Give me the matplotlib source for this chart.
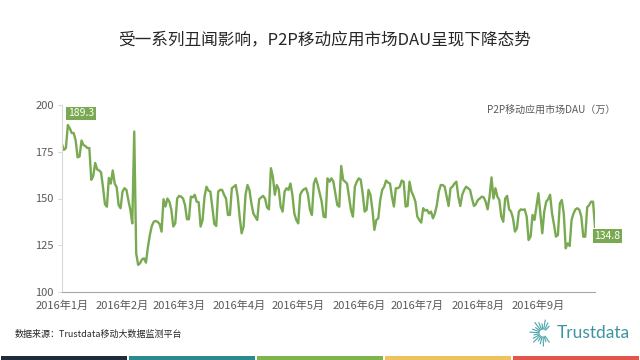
import numpy as np
import pandas as pd
import matplotlib
matplotlib.use('Agg')
import matplotlib.pyplot as plt
from matplotlib.patches import Rectangle
from matplotlib.lines import Line2D

plt.rcParams['font.family'] = ['Noto Sans CJK SC', 'DejaVu Sans']

# P2P移动应用市场DAU（万），2016-01-01 ~ 2016-09-30 每日数据
jan = [179, 176, 177, 189.3, 187.5, 185, 185, 181, 172, 172.5,
       181, 178.6, 178, 177, 177, 160, 162, 169, 165.6, 165,
       164, 156, 147, 145.6, 161, 158, 165, 158, 156, 146.5, 144.8]
feb = [153.7, 155.5, 154.6, 149, 144, 136.7, 185.8, 120.7, 114.5, 115.4,
       117.5, 118, 115.7, 124, 130.5, 135.3, 137.6, 138, 137.5, 136.4,
       132.3, 149.6, 145.7, 150, 148.3, 144, 135, 136.7, 150]
mar = [151.4, 151, 150, 146.5, 138.9, 138.9, 151, 150.6, 152, 148.3,
       148, 135, 138.5, 151, 156.3, 154.2, 153.7, 145.3, 136.4, 135.3,
       153.7, 154.6, 154.6, 152, 150, 141.2, 141.2, 155.5, 156.3, 157.2, 151]
apr = [140, 131.4, 135, 152, 157.2, 154.6, 147.4, 142, 140.3, 138.5,
       149.6, 150.6, 151.4, 150, 145.3, 144.2, 166.2, 161.7, 152, 157.2,
       155, 145.7, 143, 153.7, 155.5, 154.6, 158, 152, 142, 138.5]
may = [136.7, 152, 154, 155, 155.5, 152, 144, 141.2, 158, 160.8,
       157.2, 152.8, 148.3, 140.3, 140, 160.8, 159, 160.8, 159, 152.8,
       146.5, 145.6, 167.4, 160, 159, 158, 151, 143.9, 140.3, 156.3, 159]
jun = [160.8, 160, 152.8, 143, 143.9, 154.6, 152, 143.9, 133.2, 138.5,
       139.4, 149.2, 154.6, 156.3, 159.6, 158.5, 158, 151, 145.7, 155.5,
       155.5, 156.3, 159.6, 159, 145.7, 146, 159, 153.7, 151.4, 148.3]
jul = [140.3, 138.5, 137.1, 144.8, 143.5, 143.9, 142, 143, 139.4, 142,
       146.5, 153.7, 157.2, 157.2, 156.3, 151, 146, 155.5, 156.3, 158,
       159, 151, 146, 152, 154.6, 156.3, 155.5, 154.6, 150, 146, 147]
aug = [149.2, 150, 151, 150.6, 148.3, 144.2, 151, 161.3, 150, 155.5,
       151, 149.2, 140.3, 137.6, 150, 151.4, 144.2, 143, 139.4, 132.3,
       134, 143, 144.2, 143.9, 144.2, 140.3, 127.8, 129.6, 141.2, 138.5, 145.7]
sep = [152.8, 142, 131.4, 143, 148.3, 149.6, 152, 142, 136, 129.6,
       130.5, 147.4, 149.2, 142, 123.4, 126, 124.6, 138.5, 142, 144.2,
       144.8, 143.9, 140.3, 129.6, 129.6, 145.3, 146.5, 148.3, 148.3, 134.8]

dau = jan + feb + mar + apr + may + jun + jul + aug + sep
dates = pd.date_range('2016-01-01', periods=len(dau), freq='D')
month_ticks = pd.date_range('2016-01-01', periods=9, freq='MS')
month_labels = ['2016年%d月' % m for m in range(1, 10)]

title = '受一系列丑闻影响，P2P移动应用市场DAU呈现下降态势'
series_name = 'P2P移动应用市场DAU（万）'
source = '数据来源：Trustdata移动大数据监测平台'

green = '#79aa52'

fig = plt.figure(figsize=(6.4, 3.6), dpi=100)
ax = fig.add_axes([62/640, 1-292/360, (595-62)/640, (292-105)/360])

ax.plot(dates, dau, color=green, lw=1.7)
ax.set_xlim(dates[0], dates[-1])
ax.set_ylim(100, 200)
ax.set_yticks([100, 125, 150, 175, 200])
ax.set_xticks(month_ticks)
ax.set_xticklabels(month_labels)

for s in ['top', 'right']:
    ax.spines[s].set_visible(False)
ax.spines['left'].set_color('#d9d9d9')
ax.spines['bottom'].set_color('#a6a6a6')
ax.tick_params(axis='y', length=3, color='#d9d9d9', labelsize=8,
               labelcolor='#595959', pad=3)
ax.tick_params(axis='x', length=0, labelsize=8, labelcolor='#595959', pad=6)

# 最大值与最后一个值的标签
i_max = int(np.argmax(dau))
ax.annotate('%.1f' % dau[i_max], xy=(dates[i_max], dau[i_max]),
            xytext=(9.5, 8.5), textcoords='offset points',
            ha='center', va='center', fontsize=7.5, color='white',
            bbox=dict(boxstyle='square,pad=0.15', fc=green, ec='none'))
ax.annotate('%.1f' % dau[-1], xy=(dates[-1], dau[-1]),
            xytext=(9, -6.5), textcoords='offset points',
            ha='center', va='center', fontsize=7.5, color='white',
            bbox=dict(boxstyle='square,pad=0.15', fc=green, ec='none'),
            annotation_clip=False)

fig.text(325/640, 1-40/360, title, ha='center', va='center',
         fontsize=12, color='#262626')
fig.text(551/640, 1-110/360, series_name, ha='center', va='center',
         fontsize=7.2, color='#595959')
fig.text(15/640, 1-334/360, source, ha='left', va='center',
         fontsize=6.5, color='#262626')

# Trustdata logo
fig.text(593/640, 1-333/360, 'Trustdata', ha='center', va='center',
         fontsize=12.5, color='#3e93a3', family='Lato')
cx, cy = 543, 333
for a in np.arange(0, 360, 16):
    if -45 < ((a + 180) % 360) - 180 < 45:
        continue
    r0, r1 = 4, 9 + (a % 3) * 2
    xs = [cx + r0*np.cos(np.radians(a)), cx + r1*np.cos(np.radians(a))]
    ys = [cy - r0*np.sin(np.radians(a)), cy - r1*np.sin(np.radians(a))]
    fig.add_artist(Line2D([x/640 for x in xs], [1 - y/360 for y in ys],
                          color='#4aa3a8', lw=0.8))

# 底部色带
band_colors = ['#1e2d3b', '#2d8a8c', '#80b34f', '#f0c35a', '#e2554b']
for k, c in enumerate(band_colors):
    fig.add_artist(Rectangle((k*128/640 + 0.001, 0), 126/640, 4/360,
                             transform=fig.transFigure, fc=c, ec='none'))

fig.savefig('out.png', dpi=100, facecolor='white')
